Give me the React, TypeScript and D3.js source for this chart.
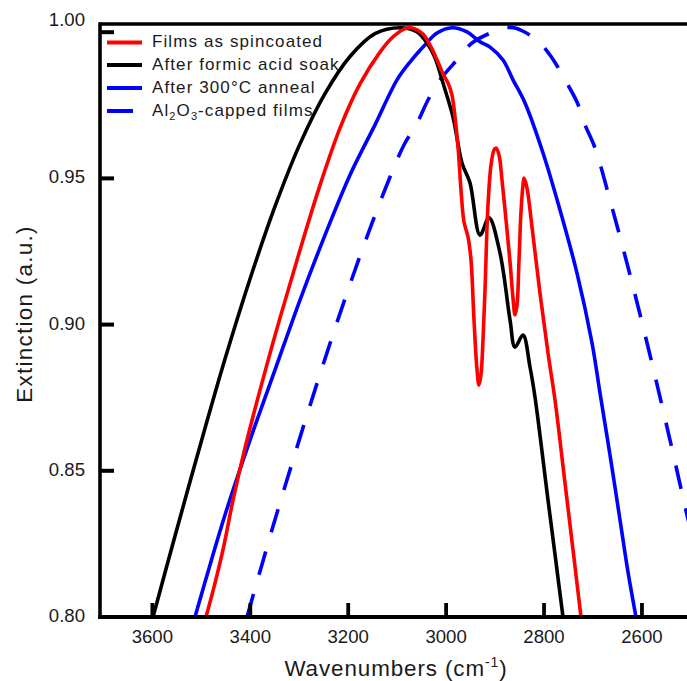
import React from "react";
import * as d3 from "d3";

// ---- data (wavenumber cm^-1, extinction a.u.) ----
const spincoated: [number, number][] = [
  [3490.5, 0.8], [3472.1, 0.8116], [3453.7, 0.8246], [3435.3, 0.84], [3410.8, 0.8578],
  [3380.2, 0.8776], [3339.3, 0.9023], [3298.5, 0.9255], [3257.6, 0.9477], [3216.8, 0.9672],
  [3175.9, 0.9823], [3135.1, 0.9932], [3108.5, 0.9984], [3077.9, 1.0015], [3049.3, 0.9997],
  [3032.9, 0.9956], [3016.6, 0.9898], [3006.4, 0.9857], [2996.2, 0.9826], [2988.0, 0.9785],
  [2981.9, 0.971], [2975.7, 0.9607], [2969.6, 0.946], [2963.5, 0.9351], [2955.3, 0.93],
  [2949.2, 0.9221], [2943.1, 0.9016], [2936.9, 0.8845], [2932.9, 0.8793], [2928.8, 0.8828],
  [2924.7, 0.8947], [2920.6, 0.9118], [2914.5, 0.9409], [2908.3, 0.9546], [2902.2, 0.9597],
  [2898.1, 0.9604], [2892.0, 0.958], [2885.9, 0.9495], [2877.7, 0.9358], [2869.5, 0.9214],
  [2863.4, 0.9091], [2859.3, 0.9033], [2855.2, 0.9067], [2851.1, 0.9221], [2847.1, 0.9385],
  [2843.0, 0.9477], [2840.9, 0.9501], [2834.8, 0.9467], [2824.6, 0.9334], [2808.3, 0.9108],
  [2791.9, 0.8903], [2777.6, 0.8742], [2757.2, 0.8458], [2740.8, 0.8229], [2724.5, 0.8],
];

const formicSoak: [number, number][] = [
  [3598.7, 0.8], [3553.8, 0.8277], [3502.7, 0.8585], [3451.7, 0.8882], [3400.6, 0.9156],
  [3349.5, 0.9404], [3298.5, 0.9618], [3247.4, 0.979], [3196.3, 0.9917], [3145.3, 0.9995],
  [3094.2, 1.0015], [3059.5, 1.0001], [3039.1, 0.9963], [3022.7, 0.9912], [3006.4, 0.9826],
  [2986.0, 0.971], [2967.6, 0.9553], [2951.2, 0.9484], [2930.8, 0.9306], [2912.4, 0.9365],
  [2890.0, 0.9245], [2869.5, 0.9016], [2859.3, 0.8923], [2843.0, 0.8964], [2828.7, 0.8855],
  [2818.5, 0.8752], [2791.9, 0.84], [2775.6, 0.8188], [2761.3, 0.8],
];

const annealed: [number, number][] = [
  [3513.0, 0.8], [3482.3, 0.8178], [3451.7, 0.8349], [3400.6, 0.8605], [3349.5, 0.8845],
  [3298.5, 0.9084], [3247.4, 0.9306], [3196.3, 0.9512], [3145.3, 0.9683], [3100.3, 0.9837],
  [3073.8, 0.9898], [3047.2, 0.9949], [3018.6, 0.9997], [2988.0, 1.0015], [2957.4, 1.0001],
  [2930.8, 0.9967], [2910.4, 0.9949], [2883.8, 0.9905], [2863.4, 0.9837], [2838.9, 0.9758],
  [2802.1, 0.9587], [2767.4, 0.9392], [2732.7, 0.9176], [2702.0, 0.8937], [2685.7, 0.8766],
  [2665.3, 0.8554], [2644.8, 0.8332], [2628.5, 0.8154], [2612.2, 0.8],
];

const capped: [number, number][] = [
  [3406.7, 0.8], [3355.7, 0.8298], [3304.6, 0.8581], [3253.5, 0.8852], [3202.5, 0.9108],
  [3151.4, 0.9347], [3100.3, 0.9563], [3084.0, 0.9621], [3059.5, 0.9689], [3037.0, 0.9768],
  [3012.5, 0.9837], [2977.8, 0.9905], [2947.2, 0.9963], [2904.3, 1.0001], [2879.7, 1.0015],
  [2859.3, 1.0014], [2814.4, 0.9973], [2783.7, 0.9912], [2757.2, 0.9837], [2732.7, 0.9761],
  [2716.3, 0.9683], [2695.9, 0.9604], [2665.3, 0.9426], [2624.4, 0.917], [2583.6, 0.8896],
  [2542.7, 0.8605], [2508.0, 0.8349], [2481.4, 0.8161],
];

const xTicks = [3600, 3400, 3200, 3000, 2800, 2600];
const yTicks = [0.8, 0.85, 0.9, 0.95, 1.0];

const legendLabels = ["Films as spincoated", "After formic acid soak", "After 300°C anneal", "Al2O3-capped films"];

// ---- layout ----
const W = 687;
const H = 681;
const left = 100;
const right = 687;
const top = 24;
const bottom = 617;

const FONT = "'Liberation Sans', Arial, Helvetica, sans-serif";

export default function App() {
  const x = d3.scaleLinear().domain([3707, 2508]).range([left, right]);
  const y = d3.scaleLinear().domain([0.8, 1.0028]).range([bottom, top]);
  const line = d3
    .line<[number, number]>()
    .x((d) => x(d[0]))
    .y((d) => y(d[1]))
    .curve(d3.curveCatmullRom.alpha(0.5));

  const series = [
    { data: capped, color: "#0000ff", dash: "24 20" },
    { data: annealed, color: "#0000ff", dash: undefined },
    { data: formicSoak, color: "#000000", dash: undefined },
    { data: spincoated, color: "#ff0000", dash: undefined },
  ];

  const legend = [
    { color: "#ff0000", dash: undefined },
    { color: "#000000", dash: undefined },
    { color: "#0000ff", dash: undefined },
    { color: "#0000ff", dash: "26 30" },
  ];
  const legendY = [42.5, 65, 88, 111];

  return (
    <svg
      width={W}
      height={H}
      viewBox={`0 0 ${W} ${H}`}
      style={{ position: "absolute", left: 0, top: 0, background: "#fff" }}
    >
      <defs>
        <clipPath id="plot">
          <rect x={left} y={top} width={right - left} height={bottom - top} />
        </clipPath>
      </defs>

      <g clipPath="url(#plot)">
        {series.map((s, i) => (
          <path
            key={i}
            d={line(s.data) || ""}
            fill="none"
            stroke={s.color}
            strokeWidth={3.6}
            strokeDasharray={s.dash}
            strokeLinejoin="round"
          />
        ))}
      </g>

      {/* axes */}
      <line x1={left} x2={right} y1={top} y2={top} stroke="#000" strokeWidth={3.4} />
      <line x1={left} x2={left} y1={top - 1.7} y2={bottom + 2} stroke="#000" strokeWidth={3.6} />
      <line x1={left - 1.8} x2={right} y1={bottom} y2={bottom} stroke="#000" strokeWidth={4} />

      {xTicks.map((t) => (
        <g key={t}>
          <line x1={x(t)} x2={x(t)} y1={bottom} y2={bottom - 14} stroke="#000" strokeWidth={3.8} />
          <text x={x(t)} y={643} textAnchor="middle" fontFamily={FONT} fontSize={18.6} fill="#1a1a1a">
            {t}
          </text>
        </g>
      ))}

      {yTicks.map((t) => {
        const yy = y(t);
        const interior = yy > top + 5 && yy < bottom - 5;
        const base = Math.min(yy + 5, top + 2);
        return (
          <g key={t}>
            {interior && (
              <line x1={left} x2={left + 14} y1={yy} y2={yy} stroke="#000" strokeWidth={4} />
            )}
            <text
              x={85}
              y={yy < top + 10 ? base : yy + 5}
              textAnchor="end"
              fontFamily={FONT}
              fontSize={18.6}
              fill="#1a1a1a"
            >
              {t.toFixed(2)}
            </text>
          </g>
        );
      })}

      {/* axis titles */}
      <text
        x={396}
        y={676}
        textAnchor="middle"
        fontFamily={FONT}
        fontSize={22.4}
        letterSpacing={0.9}
        fill="#1a1a1a"
      >
        Wavenumbers (cm
        <tspan fontSize={14} dy={-9}>-1</tspan>
        <tspan dy={9}>)</tspan>
      </text>
      <text
        transform="translate(32,314) rotate(-90)"
        textAnchor="middle"
        fontFamily={FONT}
        fontSize={22.4}
        letterSpacing={1.3}
        fill="#1a1a1a"
      >
        Extinction (a.u.)
      </text>

      {/* legend */}
      {legend.map((l, i) => (
        <g key={i}>
          <line
            x1={107}
            x2={i === 3 ? 133 : 142}
            y1={legendY[i]}
            y2={legendY[i]}
            stroke={l.color}
            strokeWidth={4}
          />
          <text
            x={152}
            y={legendY[i] + 4.8}
            fontFamily={FONT}
            fontSize={17}
            letterSpacing={1.1}
            fill="#1a1a1a"
          >
            {i === 3 ? (
              <>
                Al<tspan fontSize={11} dy={4}>2</tspan>
                <tspan dy={-4}>O</tspan>
                <tspan fontSize={11} dy={4}>3</tspan>
                <tspan dy={-4}>-capped films</tspan>
              </>
            ) : (
              legendLabels[i]
            )}
          </text>
        </g>
      ))}
    </svg>
  );
}
